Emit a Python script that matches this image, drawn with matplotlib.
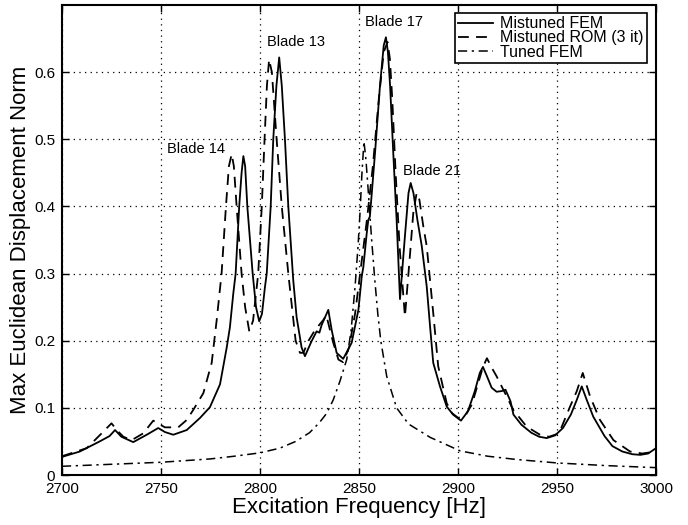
import matplotlib
matplotlib.use("Agg")
import matplotlib.pyplot as plt

plt.rcParams['font.family'] = ['Liberation Sans', 'DejaVu Sans']

# ---- data ----
freq_fem = [2700, 2709, 2719, 2724, 2726.8, 2730, 2736, 2742.8, 2748.6, 2752, 2756.2, 2763,
            2769.7, 2774.7, 2779.8, 2783.2, 2784.8, 2786.5, 2787.7, 2789.5, 2790.7, 2791.6,
            2792.5, 2793.6, 2796.3, 2798, 2799.6, 2801, 2802.5, 2803.4, 2805.4, 2806.7, 2808.3,
            2809.7, 2811, 2812.6, 2814.3, 2816.8, 2818.5, 2821, 2822.7, 2826, 2828.6, 2830,
            2831.2, 2834.5, 2836.2, 2838.7, 2842, 2846.3, 2849.7, 2851.4, 2852.2, 2853.9,
            2854.7, 2855.5, 2858.1, 2860.6, 2862.5, 2863.6, 2864.6, 2865.7, 2867.3, 2869,
            2870.7, 2873.2, 2875, 2876.1, 2877.5, 2879.5, 2881.7, 2884.2, 2885.9, 2887.5,
            2890.9, 2894.3, 2897.5, 2901.5, 2905, 2908.5, 2911, 2912.6, 2914.5, 2917, 2919.5,
            2922, 2924, 2926.5, 2928, 2932, 2937, 2941, 2944.8, 2949, 2953, 2957, 2960, 2962.5,
            2965, 2968.3, 2974, 2978, 2983, 2988, 2992, 2996, 3000]
disp_fem = [0.027, 0.035, 0.050, 0.058, 0.067, 0.057, 0.049, 0.060, 0.070, 0.064, 0.060, 0.067,
            0.085, 0.101, 0.135, 0.190, 0.220, 0.270, 0.300, 0.400, 0.450, 0.475,
            0.460, 0.400, 0.300, 0.250, 0.229, 0.240, 0.280, 0.300, 0.400, 0.500, 0.580,
            0.622, 0.580, 0.500, 0.400, 0.290, 0.235, 0.190, 0.177, 0.199, 0.214, 0.212,
            0.224, 0.246, 0.216, 0.182, 0.173, 0.197, 0.246, 0.296, 0.310, 0.360,
            0.380, 0.385, 0.480, 0.580, 0.640, 0.652, 0.630, 0.580, 0.480, 0.380,
            0.262, 0.356, 0.420, 0.435, 0.420, 0.380, 0.341, 0.281, 0.221, 0.167,
            0.132, 0.102, 0.090, 0.081, 0.095, 0.125, 0.152, 0.161, 0.148, 0.130, 0.124,
            0.125, 0.127, 0.110, 0.090, 0.075, 0.063, 0.057, 0.055, 0.059, 0.070, 0.090, 0.112, 0.132,
            0.112, 0.087, 0.058, 0.043, 0.035, 0.031, 0.030, 0.032, 0.040]

freq_rom = [2700, 2712.5, 2720, 2725, 2728, 2731, 2735.2, 2741, 2746.1, 2749, 2752, 2758.7,
            2763, 2766.3, 2771.4, 2775.6, 2778.1, 2780.6, 2782.8, 2784.3, 2785.7, 2786.8,
            2788.2, 2790.7, 2792.5, 2794.6, 2796.5, 2799.1, 2800.9, 2802.3, 2803.5, 2804.6,
            2806, 2808.4, 2811, 2814.3, 2818, 2820.2, 2821.9, 2824.5, 2827.8, 2832, 2833.5,
            2835, 2837, 2839.6, 2842, 2845, 2848, 2851, 2854, 2857, 2860, 2862.5, 2864.4,
            2865.6, 2866.8, 2868.5, 2870.5, 2873.2, 2875.8, 2877.4, 2879.1, 2880.5, 2882.5,
            2884.2, 2887.5, 2890, 2894.3, 2897, 2900.2, 2904, 2907, 2910, 2912.5, 2914.6,
            2917, 2919.5, 2924.6, 2927.9, 2934.7, 2941.4, 2946, 2951, 2956.6, 2960, 2963,
            2966.7, 2971.7, 2978.5, 2986.9, 2993, 3000]
disp_rom = [0.028, 0.040, 0.062, 0.077, 0.066, 0.057, 0.052, 0.062, 0.081, 0.076, 0.071, 0.071,
            0.082, 0.097, 0.122, 0.167, 0.230, 0.300, 0.400, 0.460, 0.478, 0.460,
            0.400, 0.300, 0.250, 0.214, 0.230, 0.300, 0.400, 0.500, 0.580, 0.619,
            0.600, 0.500, 0.400, 0.300, 0.200, 0.182, 0.182, 0.200, 0.216, 0.231, 0.238,
            0.220, 0.197, 0.172, 0.168, 0.190, 0.240, 0.310, 0.380, 0.460, 0.560, 0.630, 0.645,
            0.620, 0.560, 0.450, 0.340, 0.236, 0.330, 0.390, 0.420, 0.410, 0.370,
            0.341, 0.241, 0.162, 0.107, 0.092, 0.085, 0.090, 0.105, 0.135, 0.160, 0.174,
            0.160, 0.147, 0.117, 0.097, 0.072, 0.060, 0.057, 0.062, 0.102, 0.125, 0.152,
            0.117, 0.082, 0.052, 0.035, 0.032, 0.035]

freq_tuned = [2700, 2725, 2750, 2775, 2787, 2800, 2810, 2818, 2825, 2830, 2833.7, 2837, 2840.4,
              2843.8, 2846, 2848, 2849.5, 2850.5, 2851.5, 2852.5, 2853.5, 2854.5, 2856.4, 2858,
              2859.5, 2861, 2864, 2869, 2875, 2886, 2901, 2915, 2930, 2950, 2975, 3000]
disp_tuned = [0.013, 0.016, 0.019, 0.024, 0.028, 0.033, 0.040, 0.050, 0.063, 0.078, 0.092, 0.112, 0.140,
              0.172, 0.215, 0.280, 0.340, 0.390, 0.450, 0.497, 0.470, 0.430, 0.350, 0.290,
              0.240, 0.200, 0.147, 0.100, 0.076, 0.056, 0.036, 0.028, 0.023, 0.018, 0.014, 0.011]

series_labels = ["Mistuned FEM", "Mistuned ROM (3 it)", "Tuned FEM"]
x_ticks = [2700, 2750, 2800, 2850, 2900, 2950, 3000]
y_ticks = [0, 0.1, 0.2, 0.3, 0.4, 0.5, 0.6]
y_tick_labels = ["0", "0.1", "0.2", "0.3", "0.4", "0.5", "0.6"]
annotations = [("Blade 14", 2753, 0.485), ("Blade 13", 2803.3, 0.645),
               ("Blade 17", 2853, 0.675), ("Blade 21", 2872, 0.453)]

# ---- figure ----
fig = plt.figure(figsize=(6.88, 5.25), dpi=100)
ax = fig.add_axes([0.0901, 0.0952, 0.8634, 0.8952])

ax.plot(freq_fem, disp_fem, color='black', lw=1.3, linestyle='-', label=series_labels[0])
ax.plot(freq_rom, disp_rom, color='black', lw=1.3, linestyle=(0, (6, 4)), label=series_labels[1])
ax.plot(freq_tuned, disp_tuned, color='black', lw=1.1, linestyle=(0, (6, 3, 1.5, 3)), label=series_labels[2])

ax.set_xlim(2700, 3000)
ax.set_ylim(0, 0.7)
ax.set_xticks(x_ticks)
ax.set_xticklabels([str(t) for t in x_ticks])
ax.set_yticks(y_ticks)
ax.set_yticklabels(y_tick_labels)
ax.tick_params(direction='in', top=True, right=True, length=5, width=1.0,
               labelsize=11, pad=5)
ax.grid(True, color='black', linestyle=(0, (1, 3.5)), linewidth=0.9)
for s in ax.spines.values():
    s.set_linewidth(1.5)

ax.set_xlabel("Excitation Frequency [Hz]", fontsize=16, labelpad=1)
ax.set_ylabel("Max Euclidean Displacement Norm", fontsize=16, labelpad=2)

for txt, xv, yv in annotations:
    ax.text(xv, yv, txt, fontsize=10.5, ha='left', va='center')

leg = ax.legend(loc='upper right', bbox_to_anchor=(0.984, 0.983), borderaxespad=0,
                fontsize=11.5, labelspacing=-0.05, handlelength=2.2, handletextpad=0.4,
                borderpad=0.2, fancybox=False, framealpha=1, edgecolor='black')
leg.get_frame().set_linewidth(1.2)

fig.savefig("out.png", dpi=100)
